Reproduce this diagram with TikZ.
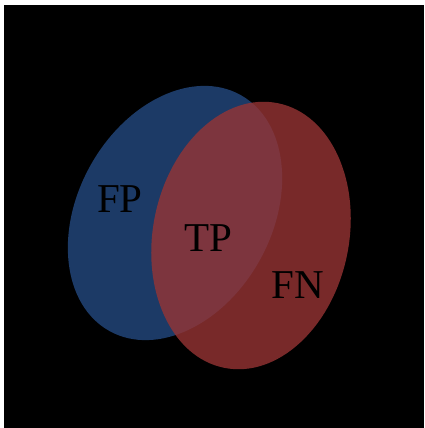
\documentclass[tikz,border=0pt]{standalone}
\usepackage{fontspec}
\setmainfont{Liberation Serif}
\definecolor{fpblue}{RGB}{28,58,102}
\definecolor{fnred}{RGB}{150,52,52}
\begin{document}
\begin{tikzpicture}[x=1pt,y=1pt,line cap=round,line join=round,font=\fontsize{41}{48}\selectfont]
					\useasboundingbox (0,0) rectangle (424,428);
					\fill[black] (4,0) rectangle (424,423);
					\tikzset{lbl/.style={anchor=base,inner sep=0pt,text=black}}
					\fill[fpblue,rotate around={61:(175,215)}] (175,215) ellipse (135 and 97);
					\fill[fnred,fill opacity=0.8,rotate around={78.5:(251,192.5)}] (251,192.5) ellipse (135 and 98);
					\node[lbl] (fp) at (120,215) {FP};
					\node[lbl] (tp) at (208.5,176) {TP};
					\node[lbl] (fn) at (298,129) {FN};
				\end{tikzpicture}
\end{document}
